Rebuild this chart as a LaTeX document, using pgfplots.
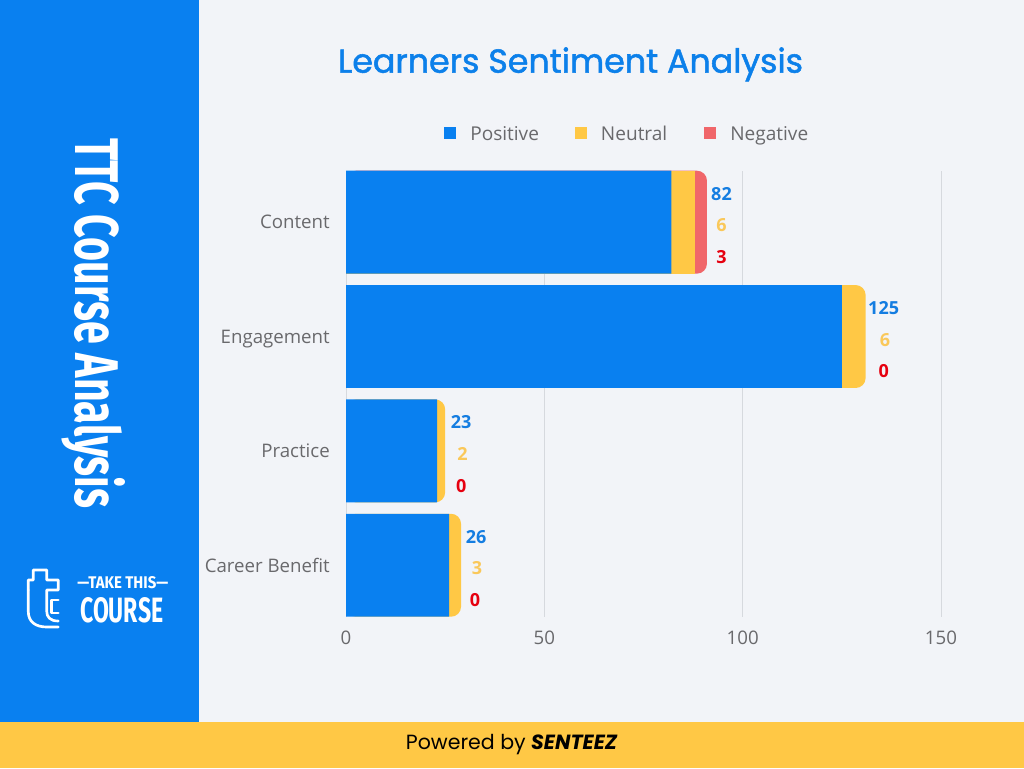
\documentclass[border=0pt]{standalone}
\usepackage{pgfplots}
\pgfplotsset{compat=1.18}
\usepackage{fontspec}
\setmainfont{Open Sans}
\newfontfamily\poppins{Poppins}
\newfontfamily\poppinsT{Poppins}[FakeBold=1.6]
\newfontfamily\cond{Fira Sans}
\definecolor{panel}{RGB}{9,128,240}
\definecolor{bgc}{RGB}{242,244,248}
\definecolor{foot}{RGB}{255,200,69}
\definecolor{posC}{RGB}{9,128,240}
\definecolor{neuC}{RGB}{255,200,69}
\definecolor{negC}{RGB}{240,102,106}
\definecolor{lblpos}{RGB}{20,125,225}
\definecolor{lblneu}{RGB}{250,200,90}
\definecolor{lblneg}{RGB}{230,0,15}
\definecolor{gridc}{RGB}{214,217,222}
\definecolor{tickc}{RGB}{105,105,108}
\definecolor{titlec}{RGB}{12,128,234}
\begin{document}
\begin{tikzpicture}
\useasboundingbox (0,0) rectangle (768pt,-576pt);
\begin{scope}[x=0.75pt,y=-0.75pt]
\fill[bgc] (0,0) rectangle (1024,768);
\fill[panel] (0,0) rectangle (199,722);
\fill[foot] (0,722) rectangle (1024,768);
\coordinate (plotSW) at (346,616.7);
% vertical title
\node[rotate=-90, anchor=base west, inner sep=0, text=white] at (75,138)
  {\resizebox{277.5pt}{37.5pt}{\cond\bfseries TTC Course Analysis}};
% logo
\draw[white, line width=2pt, line join=round, line cap=round]
  (28.3,590) -- (28.3,580) -- (33.3,580) -- (33.3,570) -- (46.7,570) -- (46.7,580) -- (58.3,580) -- (58.3,590) -- (46.7,590) -- (46.7,611)
  .. controls (46.7,617) and (50,621) .. (58.3,621);
\draw[white, line width=2pt, line join=round, line cap=round]
  (28.3,590) -- (28.3,611.7) .. controls (28.3,622) and (36,627) .. (46.7,627) -- (58.3,627);
\draw[white, line width=2pt, line join=round, line cap=round]
  (58.3,600) -- (51.5,600) -- (51.5,613) -- (58.3,613);
\node[anchor=base west, inner sep=0, text=white] at (77,588)
  {\resizebox{68.25pt}{9pt}{\cond\bfseries —TAKE THIS—}};
\node[anchor=base west, inner sep=0, text=white] at (80,622)
  {\resizebox{62.25pt}{18.75pt}{\cond\bfseries COURSE}};
% title
\node[anchor=base, inner sep=0, text=titlec] at (570.5,72.7)
  {\resizebox{348.75pt}{!}{\poppinsT\fontsize{24}{28}\selectfont Learners Sentiment Analysis}};
% legend
\fill[posC] (444.3,127.3) rectangle (456,139.3);
\fill[neuC] (575,127.3) rectangle (586.7,139.3);
\fill[negC] (704,127.3) rectangle (715.7,139.3);
\node[anchor=base west, inner sep=0, text=tickc] at (470,140) {\fontsize{14.3}{17}\selectfont Positive};
\node[anchor=base west, inner sep=0, text=tickc] at (600.7,140) {\fontsize{14.3}{17}\selectfont Neutral};
\node[anchor=base west, inner sep=0, text=tickc] at (730,140) {\fontsize{14.3}{17}\selectfont Negative};
% footer
\node[anchor=base, inner sep=0, text=black] at (511.5,749)
  {\poppins\fontsize{15.4}{18}\selectfont Powered by {\bfseries\itshape SENTEEZ}};
\end{scope}
\begin{axis}[
  at={(plotSW)}, anchor=south west,
  scale only axis, width=446.25pt, height=334.5pt,
  xmin=0, xmax=150, ymin=-0.45, ymax=3.45,
  axis line style={draw=none}, major tick style={draw=none},
  xmajorgrids, grid style={gridc, line width=0.75pt},
  xtick={0,50,100,150}, ytick={0,1,2,3},
  yticklabels={Career Benefit,Practice,Engagement,Content},
  ticklabel style={font=\fontsize{14}{17}\selectfont, text=tickc},
  xticklabel style={anchor=base, yshift=-20.5pt},
  yticklabel style={anchor=base east, inner sep=0pt, xshift=-12pt, yshift=-5.1pt},
  /pgf/number format/assume math mode=true,
  clip=false,
]
% overlaid cumulative bars (positive, positive+neutral, positive+neutral+negative)
\addplot[xbar, bar shift=0pt, bar width=0.9, draw=none, fill=negC, rounded corners=7.5pt]
  coordinates {(91,3)};
\addplot[xbar, bar shift=0pt, bar width=0.9, draw=none, fill=neuC]
  coordinates {(88,3)};
\addplot[xbar, bar shift=0pt, bar width=0.9, draw=none, fill=neuC, rounded corners=7.5pt]
  coordinates {(131,2) (25,1) (29,0)};
\addplot[xbar, bar shift=0pt, bar width=0.9, draw=none, fill=posC]
  coordinates {(82,3) (125,2) (23,1) (26,0)};
% value labels
\begin{scope}[every node/.style={anchor=base, inner sep=0pt, font=\bfseries\fontsize{13.5}{16}\selectfont}]
\node[text=lblpos, xshift=10.9pt, yshift=16.5pt] at (axis cs:91,3) {82};
\node[text=lblneu, xshift=10.9pt, yshift=-7.3pt] at (axis cs:91,3) {6};
\node[text=lblneg, xshift=10.9pt, yshift=-31pt] at (axis cs:91,3) {3};
\node[text=lblpos, xshift=13.5pt, yshift=16.5pt] at (axis cs:131,2) {125};
\node[text=lblneu, xshift=14.5pt, yshift=-7.3pt] at (axis cs:131,2) {6};
\node[text=lblneg, xshift=13.5pt, yshift=-31pt] at (axis cs:131,2) {0};
\node[text=lblpos, xshift=12pt, yshift=16.5pt] at (axis cs:25,1) {23};
\node[text=lblneu, xshift=13pt, yshift=-7.3pt] at (axis cs:25,1) {2};
\node[text=lblneg, xshift=12pt, yshift=-31pt] at (axis cs:25,1) {0};
\node[text=lblpos, xshift=11.25pt, yshift=16.5pt] at (axis cs:29,0) {26};
\node[text=lblneu, xshift=12pt, yshift=-7.3pt] at (axis cs:29,0) {3};
\node[text=lblneg, xshift=10.5pt, yshift=-31pt] at (axis cs:29,0) {0};
\end{scope}
\end{axis}
\end{tikzpicture}
\end{document}
